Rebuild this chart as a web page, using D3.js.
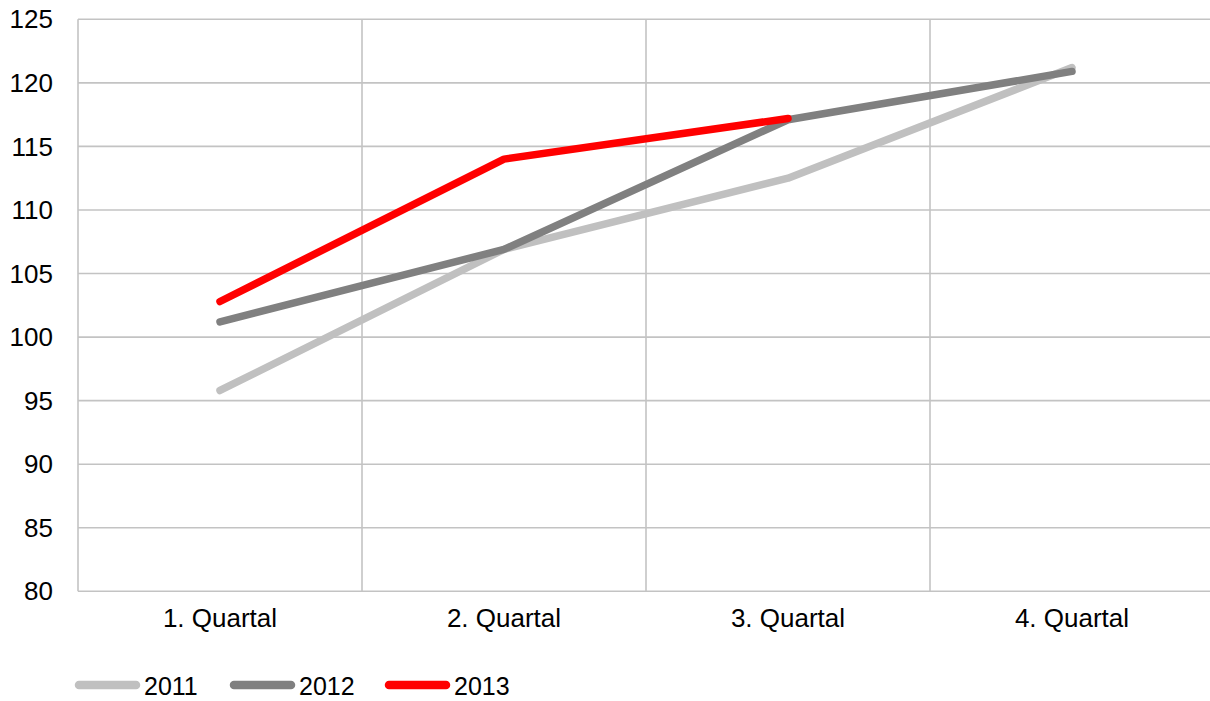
<!DOCTYPE html>
<html>
<head>
<meta charset="utf-8">
<script src="https://cdn.jsdelivr.net/npm/d3@7"></script>
<style>
  html, body { margin: 0; padding: 0; background: #fff; overflow: hidden; }
  svg { display: block; font-family: "Liberation Sans", Arial, sans-serif; }
</style>
</head>
<body>
<svg id="chart"></svg>
<script>
// ── Data ─────────────────────────────────────────────
const quarters = ['1. Quartal', '2. Quartal', '3. Quartal', '4. Quartal'];
const yTicks   = [80, 85, 90, 95, 100, 105, 110, 115, 120, 125];

const s2011 = [95.8, 106.9, 112.5, 121.2];
const s2012 = [101.2, 106.9, 117.1, 120.9];
const s2013 = [102.8, 114.0, 117.2];

const series = [
  { name: '2011', values: s2011, color: '#c0c0c0' },
  { name: '2012', values: s2012, color: '#808080' },
  { name: '2013', values: s2013, color: '#ff0000' },
];

// ── Layout ───────────────────────────────────────────
const W = 1210, H = 701;
const plot = { left: 78, right: 1214, top: 19.3, bottom: 591.3 };
const FS = 26;

const svg = d3.select('#chart').attr('width', W).attr('height', H);

const x = d3.scaleBand().domain(quarters).range([plot.left, plot.right]);
const y = d3.scaleLinear().domain([80, 125]).range([plot.bottom, plot.top]);

const grid = '#c3c3c3';

// horizontal gridlines
svg.append('g').selectAll('line')
  .data(yTicks)
  .join('line')
    .attr('x1', plot.left).attr('x2', plot.right)
    .attr('y1', d => y(d)).attr('y2', d => y(d))
    .attr('stroke', grid).attr('stroke-width', 1.6);

// vertical gridlines (category boundaries)
svg.append('g').selectAll('line')
  .data(quarters)
  .join('line')
    .attr('x1', d => x(d)).attr('x2', d => x(d))
    .attr('y1', plot.top).attr('y2', plot.bottom)
    .attr('stroke', grid).attr('stroke-width', 1.6);

// y labels
svg.append('g').selectAll('text')
  .data(yTicks)
  .join('text')
    .attr('x', 53)
    .attr('y', d => y(d))
    .attr('dy', '0.35em')
    .attr('text-anchor', 'end')
    .attr('font-size', FS)
    .attr('fill', '#000')
    .text(d => d);

// x labels
svg.append('g').selectAll('text')
  .data(quarters)
  .join('text')
    .attr('x', d => x(d) + x.bandwidth() / 2)
    .attr('y', 627)
    .attr('text-anchor', 'middle')
    .attr('font-size', FS)
    .attr('fill', '#000')
    .text(d => d);

// ── Lines ────────────────────────────────────────────
const line = d3.line()
  .x((d, i) => x(quarters[i]) + x.bandwidth() / 2)
  .y(d => y(d));

svg.append('g').selectAll('path')
  .data(series)
  .join('path')
    .attr('d', d => line(d.values))
    .attr('fill', 'none')
    .attr('stroke', d => d.color)
    .attr('stroke-width', 7.5)
    .attr('stroke-linecap', 'round')
    .attr('stroke-linejoin', 'round');

// ── Legend ───────────────────────────────────────────
const legX = [75, 230, 385];
const leg = svg.append('g').selectAll('g')
  .data(series)
  .join('g')
    .attr('transform', (d, i) => `translate(${legX[i]},685)`);

leg.append('line')
  .attr('x1', 4).attr('x2', 61)
  .attr('y1', 0).attr('y2', 0)
  .attr('stroke', d => d.color)
  .attr('stroke-width', 8.5)
  .attr('stroke-linecap', 'round');

leg.append('text')
  .attr('x', 69)
  .attr('y', 10)
  .attr('font-size', 25)
  .attr('fill', '#000')
  .text(d => d.name);
</script>
</body>
</html>
